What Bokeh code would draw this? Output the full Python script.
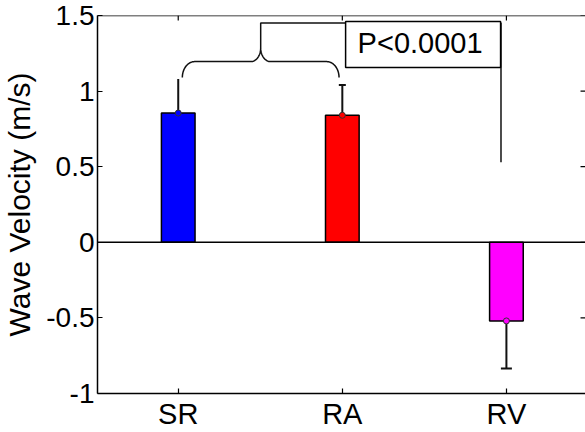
import numpy as np
from bokeh.plotting import figure
from bokeh.models import (Range1d, FixedTicker, LinearAxis, CustomJSTickFormatter,
                          Label, Span)
from bokeh.embed import file_html
from bokeh.resources import INLINE

# ---- data ----
categories = ["SR", "RA", "RV"]
means = [0.855, 0.84, -0.52]
err_ends = [1.08, 1.04, -0.835]
bar_colors = ["#0000FF", "#FF0000", "#FF00FF"]
y_ticks = [-1, -0.5, 0, 0.5, 1, 1.5]
y_title = "Wave Velocity (m/s)"
p_text = "P<0.0001"
link_top = 1.45
link_bottom = 0.53

xpos = [1, 2, 3]
FONT = "Liberation Sans"
X0, X1, Y0, Y1 = 0.508, 3.482, -1, 1.5

p = figure(width=585, height=432, x_range=Range1d(X0, X1), y_range=Range1d(Y0, Y1),
           output_backend="svg", toolbar_location=None,
           x_axis_type=None, y_axis_type=None,
           min_border_left=95, min_border_right=0, min_border_top=15, min_border_bottom=37)
p.outline_line_color = None
p.background_fill_color = "white"
p.border_fill_color = "white"

def style_axis(ax, fs):
    ax.axis_line_width = 1.5
    ax.axis_line_color = "black"
    ax.major_tick_line_color = "black"
    ax.major_tick_line_width = 1.2
    ax.major_tick_out = 0
    ax.major_tick_in = 5
    ax.minor_tick_line_color = None
    ax.major_label_text_font = FONT
    ax.major_label_text_font_size = fs
    ax.major_label_text_color = "black"

yaxis = LinearAxis(ticker=FixedTicker(ticks=y_ticks),
                   formatter=CustomJSTickFormatter(code="return tick.toString();"),
                   axis_label=y_title)
style_axis(yaxis, "28px")
yaxis.major_label_standoff = 3
yaxis.axis_label_standoff = 7
yaxis.axis_label_text_font = FONT
yaxis.axis_label_text_font_size = "30px"
yaxis.axis_label_text_font_style = "normal"
yaxis.axis_label_text_color = "black"
p.add_layout(yaxis, "left")

xaxis = LinearAxis(ticker=FixedTicker(ticks=xpos),
                   major_label_overrides={x: c for x, c in zip(xpos, categories)})
style_axis(xaxis, "29px")
xaxis.major_label_standoff = 4
p.add_layout(xaxis, "below")

# top frame line and inward ticks (top and right)
p.add_layout(Span(location=Y1, dimension="width", line_color="black", line_width=1.5))
tx = 5 / 164.75
ty = 5 / 152.0
n = len(y_ticks)
p.segment(x0=xpos, y0=[Y1] * 3, x1=xpos, y1=[Y1 - ty] * 3, line_color="black", line_width=1.2)
p.segment(x0=[X1] * n, y0=y_ticks, x1=[X1 - tx] * n, y1=y_ticks,
          line_color="black", line_width=1.2)

# bars
p.vbar(x=xpos, top=means, bottom=0, width=0.205, fill_color=bar_colors,
       line_color="black", line_width=1.5)
p.add_layout(Span(location=0, dimension="width", line_color="black", line_width=1.5))

# error bars
p.segment(x0=xpos, y0=means, x1=xpos, y1=err_ends, line_color="#111111", line_width=2)
cap_sizes = [0, 7, 11]
p.scatter(x=xpos, y=err_ends, marker="dash", size=cap_sizes, line_color="#111111", line_width=2)
p.scatter(x=xpos, y=means, size=6, fill_color=bar_colors, line_color="#333333", line_width=1)

# brace joining SR and RA
xl = xpos[0] + 0.025
xr = xpos[1] - 0.02
xm = (xl + xr) / 2
yb = max(err_ends[0], err_ends[1]) + 0.01
rx, ry = 0.075, 0.105
rx2, ry2 = 0.06, 0.09
t1 = np.linspace(np.pi, np.pi / 2, 20)
t2 = np.linspace(-np.pi / 2, 0, 20)
left_x = np.concatenate([xl + rx + rx * np.cos(t1), xm - rx2 + rx2 * np.cos(t2)])
left_y = np.concatenate([yb + ry * np.sin(t1), yb + ry + ry2 + ry2 * np.sin(t2)])
right_x = 2 * xm - left_x[::-1]
right_y = left_y[::-1]
p.line(np.concatenate([left_x, right_x]), np.concatenate([left_y, right_y]),
       line_color="#111111", line_width=1.5)

# link line to RV
brace_tip = yb + ry + ry2
xv = xpos[2] - 0.033
p.line([xm, xm, xv, xv], [brace_tip, link_top, link_top, link_bottom],
       line_color="#111111", line_width=1.5)

lab = Label(x=2.02, y=1.46, text=p_text, text_font=FONT, text_font_size="29px",
            text_align="left", text_baseline="top", text_color="black",
            border_line_color="black", border_line_width=1.5,
            background_fill_color="white", padding=(12, 18, 5, 9))
p.add_layout(lab)

open("out.html", "w").write(file_html(p, INLINE))
